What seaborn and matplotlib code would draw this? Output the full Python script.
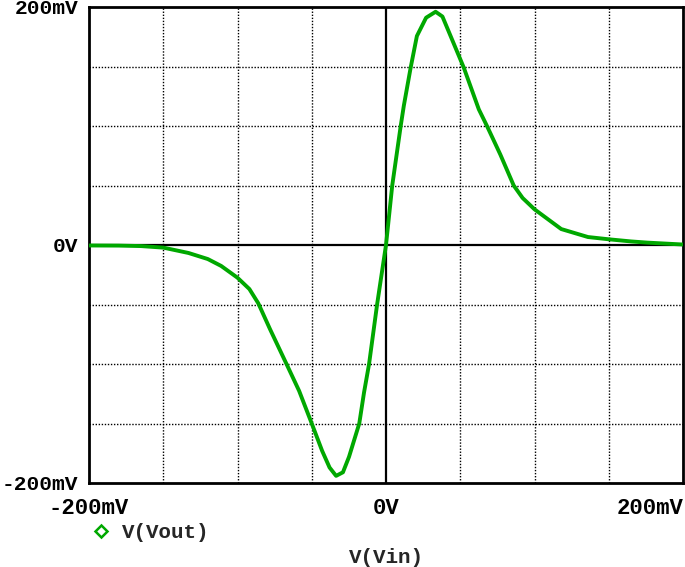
import matplotlib
matplotlib.use("Agg")
import matplotlib.pyplot as plt
from matplotlib.lines import Line2D
import seaborn as sns
import pandas as pd

# V(Vin) in mV
vin_mv = [-200, -180, -165, -150, -133, -120, -111, -100, -92, -86, -78, -67,
          -58.5, -50, -43, -38, -33.6, -29, -24.9, -18, -14.8, -11.4, -6, 0,
          4.2, 9.9, 12, 16.6, 20.8, 27, 33.4, 38, 43.5, 52.4, 62.5, 68, 77,
          86, 92, 100, 118, 136, 150, 165, 176, 200]
# V(Vout) in mV
vout_mv = [-0.4, -0.5, -0.9, -2.2, -6.7, -11.8, -17.6, -27.5, -37, -49, -71, -100,
           -122.6, -150, -173, -187, -194, -191, -178, -150, -124, -100, -50, 0,
           50, 100, 117, 149, 175.6, 191, 196, 192, 175.6, 149, 114, 100, 76,
           50, 39.5, 30, 13.4, 6.7, 4.8, 3.0, 2.0, 0.4]

tick_vals = [-200, 0, 200]
x_tick_labels = ["-200mV", "0V", "200mV"]
y_tick_labels = ["-200mV", "0V", "200mV"]
grid_vals = [-150, -100, -50, 50, 100, 150]
series_label = "V(Vout)"
x_label = "V(Vin)"

green = "#00A800"

sns.set_theme(style="white")
plt.rcParams['font.family'] = ['Liberation Mono', 'DejaVu Sans Mono']

df = pd.DataFrame({"vin": vin_mv, "vout": vout_mv})

fig = plt.figure(figsize=(6.85, 5.67), dpi=100)
ax = fig.add_axes([89 / 685, 1 - 483 / 567, (683 - 89) / 685, (483 - 7) / 567])

# dotted grid
for g in grid_vals:
    ax.axvline(g, color="black", lw=1.0, dashes=(1, 1.2), zorder=1)
    ax.axhline(g, color="black", lw=1.0, dashes=(1, 1.2), zorder=1)
# zero lines
ax.axhline(0, color="black", lw=1.6, zorder=2)
ax.axvline(0, color="black", lw=1.6, zorder=2)

sns.lineplot(data=df, x="vin", y="vout", ax=ax, color=green, lw=2.8,
             zorder=3, legend=False, sort=True)

ax.set_xlim(-200, 200)
ax.set_ylim(-200, 200)
ax.set_xticks(tick_vals)
ax.set_yticks(tick_vals)
ax.set_xticklabels(x_tick_labels)
ax.set_yticklabels(y_tick_labels)
ax.set_xlabel(x_label, fontsize=15, fontweight="bold", labelpad=21)
ax.set_ylabel("")
for spine in ax.spines.values():
    spine.set_visible(True)
    spine.set_color("black")
    spine.set_linewidth(2.0)
ax.tick_params(axis="both", which="both", direction="out", length=7, width=1.8,
               color="black", labelsize=16, pad=1)
ax.tick_params(axis="y", labelsize=15.3, pad=0.8)
ax.tick_params(axis="x", pad=4)
for lab in ax.get_xticklabels() + ax.get_yticklabels():
    lab.set_fontweight("bold")
    lab.set_color("black")
ax.get_xticklabels()[-1].set_ha("right")

# legend
handle = Line2D([], [], marker="D", mfc="none", mec=green, mew=1.8, ls="none",
                markersize=6)
leg = fig.legend([handle], [series_label], loc="center left",
                 bbox_to_anchor=(78 / 685, 1 - 533 / 567), frameon=False,
                 prop={"family": "Liberation Mono", "weight": "bold", "size": 15},
                 handletextpad=0.4, handlelength=1.2, borderpad=0)

fig.savefig("out.png", dpi=100)
